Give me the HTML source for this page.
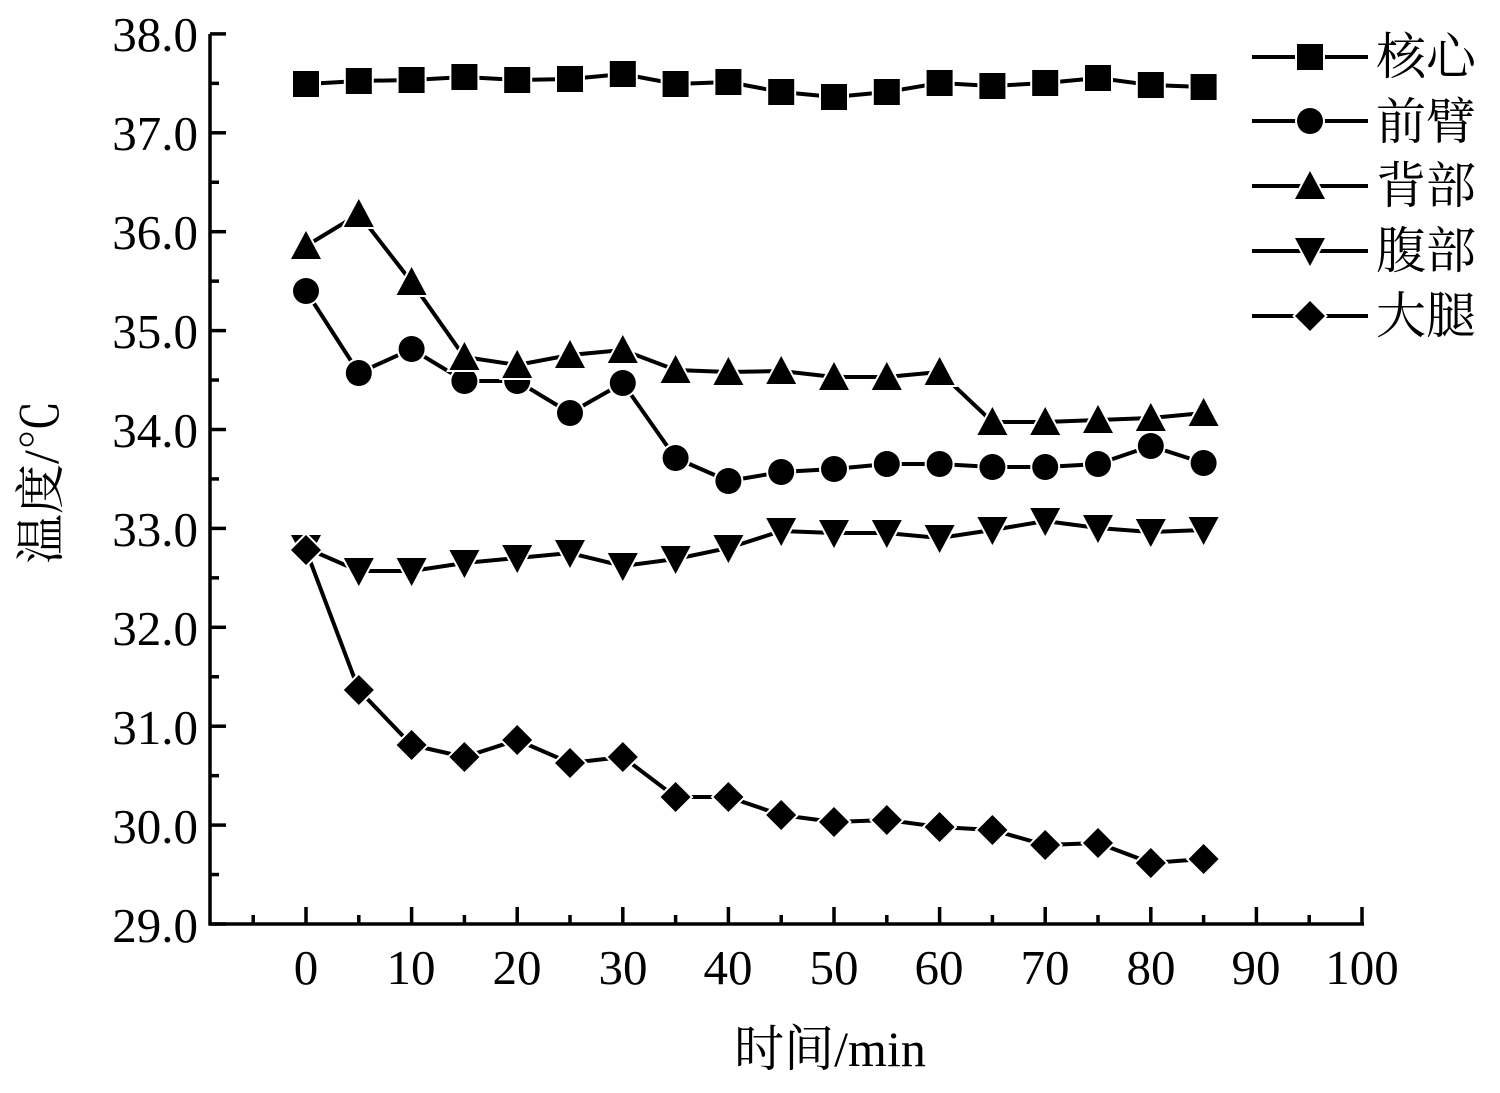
<!DOCTYPE html>
<html><head><meta charset="utf-8"><style>
html,body{margin:0;padding:0;background:#fff;}
svg{display:block;}
text{font-family:"Liberation Serif","Noto Serif CJK SC",serif;fill:#000;}
</style></head><body>
<svg id="s" width="1500" height="1093" viewBox="0 0 1500 1093" xmlns="http://www.w3.org/2000/svg">
<g stroke="#000" stroke-width="3.5" fill="none">
<path d="M210,34 V924 H1364"/>
</g>
<g font-size="49" text-anchor="end">
<text x="198" y="51">38.0</text><text x="198" y="150">37.0</text><text x="198" y="249">36.0</text>
<text x="198" y="348">35.0</text><text x="198" y="447">34.0</text><text x="198" y="546">33.0</text>
<text x="198" y="645">32.0</text><text x="198" y="744">31.0</text><text x="198" y="843">30.0</text>
<text x="198" y="942">29.0</text>
</g>
<g font-size="49" text-anchor="middle">
<text x="306" y="984">0</text><text x="411" y="984">10</text><text x="517" y="984">20</text>
<text x="623" y="984">30</text><text x="728" y="984">40</text><text x="834" y="984">50</text>
<text x="939" y="984">60</text><text x="1045" y="984">70</text><text x="1151" y="984">80</text>
<text x="1256" y="984">90</text><text x="1362" y="984">100</text>
</g>
<text x="830" y="1066" font-size="50" text-anchor="middle">时间/min</text>
<text transform="translate(58,482) rotate(-90)" font-size="50" text-anchor="middle">温度/℃</text>
<g id="ticks" stroke="#000" stroke-width="3.5"></g>
<g id="series"></g>
<g id="legend"></g>
<g font-size="50">
<text x="1376" y="74">核心</text><text x="1376" y="139">前臂</text><text x="1376" y="203">背部</text>
<text x="1376" y="268">腹部</text><text x="1376" y="333">大腿</text>
</g>
</svg>
<script>
var NS="http://www.w3.org/2000/svg";
function el(p,t,a){var e=document.createElementNS(NS,t);for(var k in a)e.setAttribute(k,a[k]);p.appendChild(e);return e;}
var tk=document.getElementById('ticks');
for(var v=29;v<=38.001;v+=0.5){var y=924-(v-29)*98.9;var L=(Math.abs(v-Math.round(v))<0.01)?16:9;el(tk,'line',{x1:210,y1:y,x2:210+L,y2:y});}
for(var m=-5;m<=100;m+=5){var x=306+m*10.56;var L=(m%10==0)?17:9;el(tk,'line',{x1:x,y1:924,x2:x,y2:924-L});}
var data=[
['sq',[84,81,80,77,80,79,74,84,82,92,97,92,83,86,83,78,85,87]],
['ci',[291,373,349,381,381,413,383,458,481,472,469,464,464,467,467,464,446,463]],
['up',[246,214,282,357,365,355,350,370,372,371,377,377,372,422,422,420,418,413]],
['dn',[548,571,571,563,558,553,566,559,548,531,533,533,538,530,521,528,532,530]],
['di',[550,690,745,757,740,763,757,797,797,815,822,820,827,830,845,843,863,859]]];
var g=document.getElementById('series');
function marker(p,t,x,y){
 var a={fill:'#000',stroke:'#fff','stroke-width':4,'paint-order':'stroke'};
 if(t=='sq'){a.x=x-13;a.y=y-13;a.width=26;a.height=26;el(p,'rect',a);}
 else if(t=='ci'){a.cx=x;a.cy=y;a.r=13;el(p,'circle',a);}
 else if(t=='up'){a.points=(x-15)+','+(y+13)+' '+x+','+(y-15)+' '+(x+15)+','+(y+13);el(p,'polygon',a);}
 else if(t=='dn'){a.points=(x-15)+','+(y-13)+' '+x+','+(y+15)+' '+(x+15)+','+(y-13);el(p,'polygon',a);}
 else {a.points=(x-15)+','+y+' '+x+','+(y-15)+' '+(x+15)+','+y+' '+x+','+(y+15);el(p,'polygon',a);}
}
data.forEach(function(d){
 var pts=d[1].map(function(y,i){return (306+i*52.8)+','+y;}).join(' ');
 el(g,'polyline',{points:pts,fill:'none',stroke:'#000','stroke-width':4});
});
data.forEach(function(d){d[1].forEach(function(y,i){marker(g,d[0],306+i*52.8,y);});});
var lg=document.getElementById('legend');var ly=[57,121,186,251,316];
data.forEach(function(d,i){el(lg,'line',{x1:1252,y1:ly[i],x2:1368,y2:ly[i],stroke:'#000','stroke-width':4});marker(lg,d[0],1310,ly[i]);});
</script>
</body></html>
